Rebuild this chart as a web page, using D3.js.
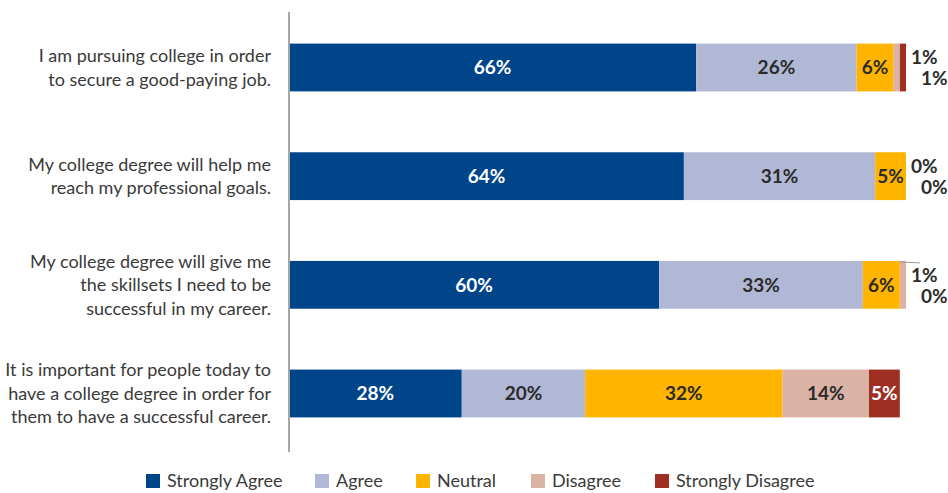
<!DOCTYPE html>
<html>
<head>
<meta charset="utf-8">
<script src="https://cdn.jsdelivr.net/npm/d3@7"></script>
<style>
  html, body { margin: 0; padding: 0; background: #fff; }
  svg { display: block; }
</style>
</head>
<body>
<svg id="chart" width="948" height="493"></svg>
<script>
// Survey statements (each entry is a list of wrapped lines)
const statements = [
  ["I am pursuing college in order", "to secure a good-paying job."],
  ["My college degree will help me", "reach my professional goals."],
  ["My college degree will give me", "the skillsets I need to be", "successful in my career."],
  ["It is important for people today to", "have a college degree in order for", "them to have a successful career."]
];
const responses = ["Strongly Agree", "Agree", "Neutral", "Disagree", "Strongly Disagree"];

// Percent of respondents per response, one array per statement
const stronglyAgree    = [66, 64, 60, 28];
const agree            = [26, 31, 33, 20];
const neutral          = [6, 5, 6, 32];
const disagree         = [1, 0, 1, 14];
const stronglyDisagree = [1, 0, 0, 5];

const seriesValues = [stronglyAgree, agree, neutral, disagree, stronglyDisagree];
const colors = ["#00458a", "#b1b8d5", "#ffb400", "#dab3a4", "#a02f23"];
const labelColors = ["#ffffff", "#2b2b2b", "#2b2b2b", "#2b2b2b", "#ffffff"];

const svg = d3.select("#chart");
const font = "Lato, 'Open Sans', sans-serif";

const x = d3.scaleLinear().domain([0, 100]).range([289, 906]);
const y = d3.scaleBand().domain(d3.range(statements.length)).range([11, 450]).paddingInner(0.56).paddingOuter(0.3);

// Build stacked rows
const rows = statements.map((s, i) => {
  let acc = 0;
  return seriesValues.map((vals, k) => {
    const v = vals[i];
    const seg = { row: i, key: k, value: v, x0: acc, x1: acc + v };
    acc += v;
    return seg;
  });
});

// Bars
const g = svg.append("g");
rows.forEach((segs, i) => {
  g.selectAll(null).data(segs).join("rect")
    .attr("x", d => x(d.x0))
    .attr("y", y(i))
    .attr("width", d => x(d.x1) - x(d.x0))
    .attr("height", y.bandwidth())
    .attr("fill", d => colors[d.key]);
});

// Inner value labels (segments wide enough to hold text)
rows.forEach((segs, i) => {
  const inner = segs.filter(d => d.value >= 5);
  g.selectAll(null).data(inner).join("text")
    .attr("x", d => (x(d.x0) + x(d.x1)) / 2)
    .attr("y", y(i) + y.bandwidth() / 2)
    .attr("dy", "0.36em")
    .attr("text-anchor", "middle")
    .attr("font-family", font)
    .attr("font-weight", "bold")
    .attr("font-size", 19)
    .attr("fill", d => labelColors[d.key])
    .text(d => d.value + "%");
});

// Outer labels for tiny Disagree / Strongly Disagree segments
rows.forEach((segs, i) => {
  const small = segs.filter(d => d.key >= 3 && d.value < 5);
  if (!small.length) return;
  const endX = x(segs[segs.length - 1].x1);
  const cy = y(i) + y.bandwidth() / 2;
  small.forEach((d, j) => {
    g.append("text")
      .attr("x", endX + 5 + j * 10)
      .attr("y", cy + (j === 0 ? -10 : 11))
      .attr("dy", "0.36em")
      .attr("font-family", font)
      .attr("font-weight", "bold")
      .attr("font-size", 19)
      .attr("fill", "#2b2b2b")
      .text(d.value + "%");
  });
  if (i === 2) {
    const d = small[0];
    g.append("path")
      .attr("d", `M${x(d.x0)},${y(i) + 1}L${x(d.x1) + 14},${y(i) + 2}`)
      .attr("stroke", "#9a9a9a")
      .attr("stroke-width", 1)
      .attr("fill", "none");
  }
});

// Vertical category axis line
svg.append("line")
  .attr("x1", 289).attr("x2", 289)
  .attr("y1", 12).attr("y2", 452)
  .attr("stroke", "#a6a6a6")
  .attr("stroke-width", 2);

// Category labels
statements.forEach((lines, i) => {
  const cy = y(i) + y.bandwidth() / 2;
  const lh = 23.5;
  const t = svg.append("text")
    .attr("text-anchor", "end")
    .attr("font-family", font)
    .attr("font-size", 18)
    .attr("fill", "#3a3a3a");
  lines.forEach((ln, j) => {
    t.append("tspan")
      .attr("x", 271)
      .attr("y", cy + (j - (lines.length - 1) / 2) * lh)
      .attr("dy", "0.36em")
      .text(ln);
  });
});

// Legend
const legendX = [146, 315, 416, 531, 655];
const legend = svg.append("g");
responses.forEach((r, k) => {
  legend.append("rect")
    .attr("x", legendX[k]).attr("y", 474)
    .attr("width", 14).attr("height", 14)
    .attr("fill", colors[k]);
  legend.append("text")
    .attr("x", legendX[k] + 21)
    .attr("y", 481)
    .attr("dy", "0.36em")
    .attr("font-family", font)
    .attr("font-size", 18)
    .attr("fill", "#3a3a3a")
    .text(r);
});
</script>
</body>
</html>
